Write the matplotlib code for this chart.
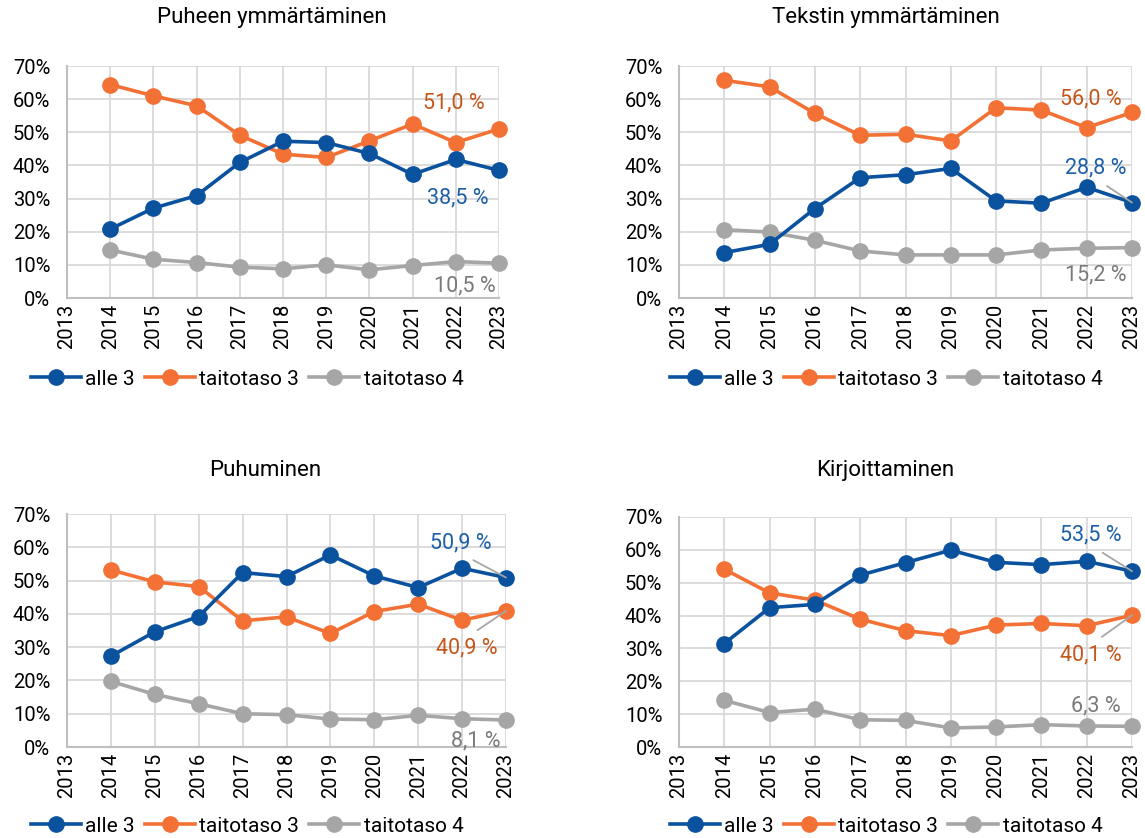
import numpy as np
import matplotlib
matplotlib.use('Agg')
import matplotlib.pyplot as plt

plt.rcParams['font.family'] = ['Roboto', 'DejaVu Sans']

years = [2014, 2015, 2016, 2017, 2018, 2019, 2020, 2021, 2022, 2023]
series_names = ['alle 3', 'taitotaso 3', 'taitotaso 4']

# Puheen ymmärtäminen
puhe_alle3 = [20.8, 27.1, 30.9, 40.9, 47.3, 46.9, 43.6, 37.3, 41.8, 38.5]
puhe_tt3 = [64.4, 61.0, 58.0, 49.1, 43.4, 42.4, 47.4, 52.5, 46.9, 51.0]
puhe_tt4 = [14.5, 11.7, 10.7, 9.3, 8.8, 10.0, 8.5, 9.8, 11.0, 10.5]

# Tekstin ymmärtäminen
teksti_alle3 = [13.7, 16.2, 27.0, 36.3, 37.2, 39.1, 29.3, 28.6, 33.4, 28.8]
teksti_tt3 = [65.7, 63.7, 55.7, 49.1, 49.4, 47.4, 57.4, 56.7, 51.4, 56.0]
teksti_tt4 = [20.6, 19.9, 17.4, 14.2, 13.0, 13.0, 13.0, 14.5, 15.0, 15.2]

# Puhuminen
puhuminen_alle3 = [27.3, 34.6, 39.2, 52.4, 51.2, 57.7, 51.4, 47.9, 53.7, 50.9]
puhuminen_tt3 = [53.2, 49.6, 48.2, 37.9, 39.1, 34.1, 40.7, 42.9, 38.1, 40.9]
puhuminen_tt4 = [19.7, 15.8, 13.0, 10.0, 9.7, 8.4, 8.2, 9.5, 8.5, 8.1]

# Kirjoittaminen
kirj_alle3 = [31.5, 42.4, 43.4, 52.3, 56.1, 59.9, 56.2, 55.5, 56.5, 53.5]
kirj_tt3 = [54.1, 46.9, 44.7, 38.9, 35.4, 33.9, 37.1, 37.6, 36.9, 40.1]
kirj_tt4 = [14.2, 10.5, 11.5, 8.3, 8.1, 5.8, 6.1, 6.8, 6.4, 6.3]

titles = ['Puheen ymmärtäminen', 'Tekstin ymmärtäminen', 'Puhuminen', 'Kirjoittaminen']
panel_data = [
    (puhe_alle3, puhe_tt3, puhe_tt4),
    (teksti_alle3, teksti_tt3, teksti_tt4),
    (puhuminen_alle3, puhuminen_tt3, puhuminen_tt4),
    (kirj_alle3, kirj_tt3, kirj_tt4),
]

colors = ['#0B529E', '#F37135', '#A6A6A6']
label_colors = ['#1C5EA8', '#C4561A', '#7A7A7A']

W, H = 1145, 838
fig = plt.figure(figsize=(W / 100, H / 100), dpi=100)

# axes boxes in pixels: left, right, top, bottom
boxes = [(67, 499, 66, 298), (679, 1132, 66, 298),
         (67, 506, 514, 747), (679, 1132, 517, 747)]
title_pos = [(272, 18), (886, 18), (265, 470), (885, 470)]
legend_pos = [(247, 379), (886, 379), (247, 826), (886, 826)]

# end label placement per series (x, y in data units, leader relpos or None)
end_labels = [
    [(2022.05, 30.2, None), (2021.96, 58.8, None), (2022.2, 3.6, None)],
    [(2022.2, 39.2, (0.5, 0.0)), (2022.1, 60.0, None), (2022.2, 6.9, None)],
    [(2021.97, 61.3, (0.5, 0.0)), (2022.1, 29.7, (0.5, 1.0)), (2022.3, 1.8, None)],
    [(2022.1, 64.5, (0.5, 0.0)), (2022.1, 28.0, (0.5, 1.0)), (2022.2, 12.5, None)],
]

for i, (box, data) in enumerate(zip(boxes, panel_data)):
    l, r, t, b = box
    ax = fig.add_axes([l / W, (H - b) / H, (r - l) / W, (b - t) / H])
    for j, vals in enumerate(data):
        ax.plot(years, vals, color=colors[j], lw=2.6, marker='o', ms=11,
                label=series_names[j], zorder=3 + (2 - j) * 0.1, clip_on=False)
    ax.set_xlim(2013, 2023)
    ax.set_ylim(0, 70)
    ax.set_xticks(range(2013, 2024))
    ax.set_xticklabels([str(y) for y in range(2013, 2024)], rotation=90)
    ax.set_yticks(range(0, 71, 10))
    ax.set_yticklabels([f'{v}%' for v in range(0, 71, 10)])
    ax.tick_params(length=0, labelsize=14.5)
    ax.tick_params(axis='y', pad=12)
    ax.tick_params(axis='x', pad=4)
    ax.grid(True, color='#D9D9D9', lw=1.3)
    ax.set_axisbelow(True)
    for side in ['top', 'right']:
        ax.spines[side].set_visible(False)
    for side in ['left', 'bottom']:
        ax.spines[side].set_color('#BFBFBF')
        ax.spines[side].set_linewidth(1.5)

    for j, vals in enumerate(data):
        lx, ly, rel = end_labels[i][j]
        txt = f'{vals[-1]:.1f} %'.replace('.', ',')
        if rel is None:
            ax.text(lx, ly, txt, color=label_colors[j], fontsize=15.5,
                    ha='center', va='center', zorder=6)
        else:
            ax.annotate(txt, xy=(years[-1], vals[-1]), xytext=(lx, ly),
                        color=label_colors[j], fontsize=15.5,
                        ha='center', va='center', zorder=6,
                        arrowprops=dict(arrowstyle='-', color='#A6A6A6', lw=1.3,
                                        relpos=rel, shrinkA=6, shrinkB=0))

    fig.text(title_pos[i][0] / W, 1 - title_pos[i][1] / H, titles[i],
             fontsize=16, ha='center', va='center')
    ax.legend(loc='center', bbox_to_anchor=(legend_pos[i][0] / W, 1 - legend_pos[i][1] / H),
              bbox_transform=fig.transFigure, ncol=3, frameon=False, fontsize=15,
              handlelength=2.4, handletextpad=0.2, columnspacing=0.5, markerscale=1.0)

fig.savefig('out.png', dpi=100)
